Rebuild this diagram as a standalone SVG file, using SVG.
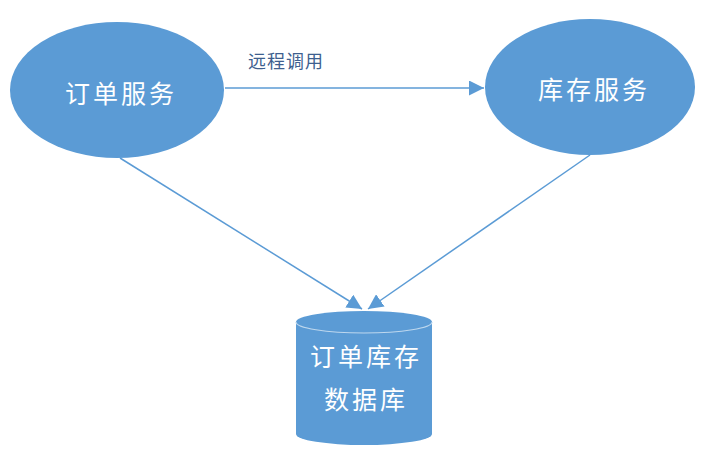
<svg xmlns="http://www.w3.org/2000/svg" width="725" height="463" viewBox="0 0 725 463">
<style>
.node{fill:#5B9BD5;}
.lbl{font-family:"Noto Sans CJK SC","Noto Sans",sans-serif;fill:#ffffff;font-size:25px;letter-spacing:3px;text-anchor:middle;dominant-baseline:central;}
.edge{stroke:#5B9BD5;stroke-width:1.5;fill:none;}
.elbl{font-family:"Noto Sans CJK SC","Noto Sans",sans-serif;fill:#3E5F8F;font-size:18px;letter-spacing:1px;}
</style>
<defs>
<marker id="arrB" viewBox="0 0 10 10" refX="10" refY="5" markerWidth="15" markerHeight="15" markerUnits="userSpaceOnUse" orient="auto"><path d="M0,0 L10,5 L0,10 z" fill="#5B9BD5"/></marker>
</defs>
<rect width="725" height="463" fill="#ffffff"/>
<g id="connectors">
<line class="edge" x1="225" y1="88" x2="484" y2="88" marker-end="url(#arrB)"/>
<text class="elbl" x="248" y="68">远程调用</text>
<line class="edge" x1="120" y1="158" x2="362" y2="309" marker-end="url(#arrB)"/>
<line class="edge" x1="590" y1="155" x2="368" y2="309" marker-end="url(#arrB)"/>
</g>
<g id="order-service">
<ellipse class="node" cx="117" cy="90" rx="107" ry="68"/>
<text class="lbl" x="121" y="92">订单服务</text>
</g>
<g id="stock-service">
<ellipse class="node" cx="590" cy="87" rx="105" ry="68"/>
<text class="lbl" x="594" y="88">库存服务</text>
</g>
<g id="database">
<path class="node" d="M296,322 A68,11 0 0 1 432,322 L432,434 A68,11 0 0 1 296,434 Z"/>
<path d="M296,322 A68,11 0 0 0 432,322" fill="none" stroke="#BDD7EE" stroke-width="1.2"/>
<text class="lbl" x="366" y="355">订单库存</text>
<text class="lbl" x="366" y="398">数据库</text>
</g>
</svg>
